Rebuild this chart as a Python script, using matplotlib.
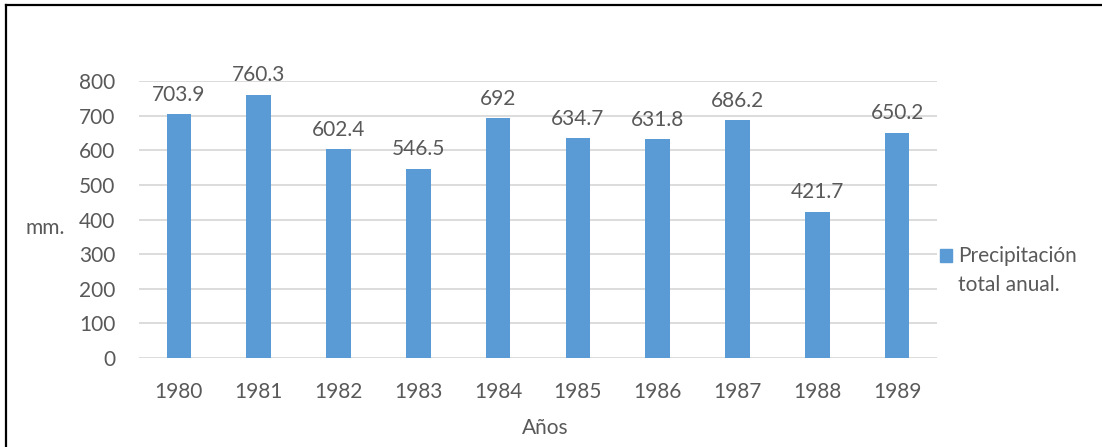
import matplotlib
matplotlib.use("Agg")
import matplotlib.pyplot as plt
from matplotlib.lines import Line2D

years = ["1980", "1981", "1982", "1983", "1984", "1985", "1986", "1987", "1988", "1989"]
precip = [703.9, 760.3, 602.4, 546.5, 692, 634.7, 631.8, 686.2, 421.7, 650.2]
labels = ["703.9", "760.3", "602.4", "546.5", "692", "634.7", "631.8", "686.2", "421.7", "650.2"]
yticks = [0, 100, 200, 300, 400, 500, 600, 700, 800]

W, H = 1102, 447
plt.rcParams['font.family'] = ['Lato', 'DejaVu Sans']
txt = '#595959'
bar_color = '#5B9BD5'
fs = 15

fig = plt.figure(figsize=(W / 100, H / 100), dpi=100)
ax = fig.add_axes([139 / W, 1 - 358 / H, (937 - 139) / W, (358 - 81) / H])

x = list(range(len(years)))
ax.bar(x, precip, width=0.31, color=bar_color, zorder=3)
for xi, v, lab in zip(x, precip, labels):
    ax.annotate(lab, (xi, v), xytext=(0, 7), textcoords='offset points',
                ha='center', va='bottom', fontsize=fs, color=txt)

ax.set_xlim(-0.5, len(years) - 0.5)
ax.set_ylim(0, 800)
ax.set_yticks(yticks)
ax.set_yticklabels([str(t) for t in yticks])
ax.set_xticks(x)
ax.set_xticklabels(years)
ax.tick_params(axis='both', length=0, labelsize=fs, colors=txt)
ax.tick_params(axis='x', pad=17)
ax.tick_params(axis='y', pad=17)
ax.grid(axis='y', color='#D9D9D9', linewidth=1.3, zorder=0)
for s in ax.spines.values():
    s.set_visible(False)

fig.text(45 / W, 1 - 228 / H, "mm.", ha='center', va='center', fontsize=fs, color=txt)
fig.text(545 / W, 1 - 428 / H, "Años", ha='center', va='center', fontsize=fs, color=txt)

# legend
fig.patches.append(matplotlib.patches.Rectangle((940 / W, 1 - 262 / H), 12 / W, 13 / H,
                   transform=fig.transFigure, color=bar_color, figure=fig))
fig.text(958 / W, 1 - 256 / H, "Precipitación", ha='left', va='center', fontsize=fs, color=txt)
fig.text(958 / W, 1 - 285 / H, "total anual.", ha='left', va='center', fontsize=fs, color=txt)

# outer border (top and left visible)
fig.lines.append(Line2D([6 / W, 1.0], [1 - 5 / H, 1 - 5 / H], transform=fig.transFigure,
                        color='black', linewidth=1.6))
fig.lines.append(Line2D([6 / W, 6 / W], [0, 1 - 5 / H], transform=fig.transFigure,
                        color='black', linewidth=1.6))

fig.savefig("out.png", dpi=100)
